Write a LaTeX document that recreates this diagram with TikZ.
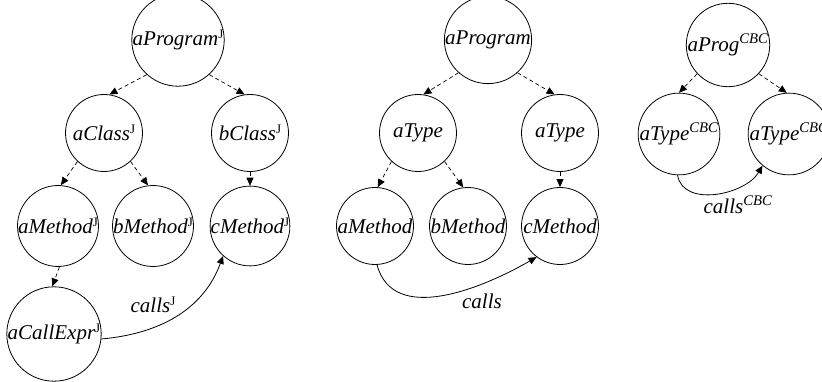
\documentclass[tikz,border=0pt]{standalone}
\usepackage{fontspec}
\setmainfont{Liberation Serif}
\usepackage{tikz}
\usetikzlibrary{arrows.meta}

\newcommand{\supJ}{\raisebox{0.33em}{\fontsize{13}{13}\selectfont\upshape J}}
\newcommand{\supCBC}{\textsuperscript{CBC}}

\begin{document}
\begin{tikzpicture}[x=1pt, y=-1pt,
              every node/.style = {font=\fontsize{21}{24}\selectfont\itshape},
              elem/.style = {shape=circle, draw, line width=0.8pt,
                inner sep=0pt, minimum size=77pt},
              member/.style = {dashed, dash pattern=on 4pt off 3pt, line width=0.7pt,
                -{Triangle[length=8pt,width=7pt]}},
              calls/.style = {line width=0.8pt, -{Triangle[length=8pt,width=7pt]}}]
  \useasboundingbox (0,0) rectangle (822,382);

  % concrete program
  \node[elem] (lProg)   at (178,40)  {aProgram\supJ};
  \node[elem] (lClassA) at (104,133) {aClass\supJ};
  \node[elem] (lClassB) at (250,133) {bClass\supJ};
  \node[elem] (lMethA)  at (58,226)  {aMethod\supJ};
  \node[elem] (lMethB)  at (153,226) {bMethod\supJ};
  \node[elem] (lMethC)  at (250,226) {cMethod\supJ};
  \node[elem] (lCall)   at (54,334)  {aCallExpr\supJ};
  \node (lCalls) at (153,305) {calls\supJ};

  \draw[member] (lProg.-132) -- (lClassA.82);
  \draw[member] (lProg.-48) -- (lClassB.98);
  \draw[member] (lClassA.-133) -- (lMethA.86);
  \draw[member] (lClassA.-47) -- (lMethB.97);
  \draw[member] (lClassB.south) -- (lMethC.north);
  \draw[member] (lMethA.-88) -- (lCall.92);
  \draw[calls] (lCall.-6) to[out=5,in=-110] (lMethC.-132);

  % abstracted program
  \node[elem] (mProg)  at (488,40)  {aProgram};
  \node[elem] (mTypeA) at (418,133) {aType};
  \node[elem] (mTypeB) at (560,133) {aType};
  \node[elem] (mMethA) at (375,226) {aMethod};
  \node[elem] (mMethB) at (468,226) {bMethod};
  \node[elem] (mMethC) at (560,226) {cMethod};
  \node (mCalls) at (482,301) {calls};

  \draw[member] (mProg.-132) -- (mTypeA.82);
  \draw[member] (mProg.-48) -- (mTypeB.98);
  \draw[member] (mTypeA.-133) -- (mMethA.86);
  \draw[member] (mTypeA.-47) -- (mMethB.97);
  \draw[member] (mTypeB.south) -- (mMethC.north);
  \draw[calls] (mMethA.-87) to[out=-75,in=-150] (mMethC.-127);

  % CBC view
  \node[elem] (rProg)  at (728,45)  {aProg\supCBC};
  \node[elem] (rTypeA) at (679,134) {aType\supCBC};
  \node[elem] (rTypeB) at (789,134) {aType\supCBC};
  \node (rCalls) at (738,205) {calls\supCBC};

  \draw[member] (rProg.-137) -- (rTypeA.90);
  \draw[member] (rProg.-43) -- (rTypeB.93);
  \draw[calls] (rTypeA.-92) to[out=-80,in=-120] (rTypeB.-130);
\end{tikzpicture}
\end{document}
